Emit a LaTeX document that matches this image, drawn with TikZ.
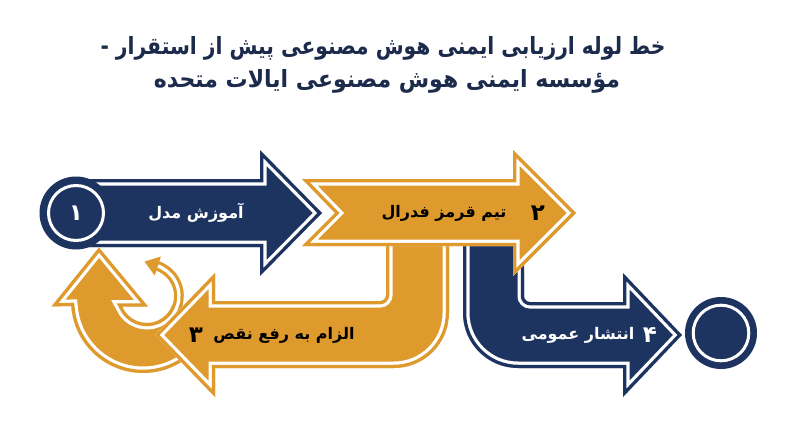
\documentclass[tikz,border=0pt]{standalone}
\usepackage{fontspec}
\usepackage{graphicx}
\TeXXeTstate=1
\newfontfamily\fa[Script=Arabic]{DejaVu Sans}
\definecolor{navy}{HTML}{1D3461}
\definecolor{gold}{HTML}{DE9A2C}
\definecolor{titlec}{HTML}{1C2B4B}
% filled shape with coloured rim, white inner line, coloured fill
\newcommand\bandedshape[2]{%
  \begin{scope}
    \clip #2;
    \fill[#1] #2;
    \draw[white, line width=13pt] #2;
    \draw[#1, line width=6.5pt] #2;
  \end{scope}}
\tikzset{
  titlefont/.style={font=\fa\bfseries\fontsize{22}{26}\selectfont, text=titlec, inner sep=0pt},
  lbl/.style={font=\fa\bfseries\fontsize{16}{19}\selectfont, text=black, inner sep=0pt},
  num/.style={font=\fa\bfseries\fontsize{23}{26}\selectfont, text=black, inner sep=0pt},
  disc/.style={fill=navy},
  ring/.style={draw=white, line width=3pt},
}
\begin{document}
\begin{tikzpicture}[x=1pt, y=-1pt, line join=miter]
\fill[white] (0,0) rectangle (800,447);
\useasboundingbox (0,0) rectangle (800,447);

% U-turn arrow (orange) under step 3
\bandedshape{gold}{(99,247.5) -- (148,306.5) -- (122.1,306.5) arc[start angle=157.1, end angle=20, radius=27] -- (210.7,325.6) arc[start angle=20, end angle=176, radius=72] -- (51.5,306.5) -- cycle}
% small curved arrow continuing the inner rim
\draw[gold, line width=9.75pt] (162.95,323.63) arc[start angle=60, end angle=-72, radius=31.9];
\draw[white, line width=3.25pt] (162.95,323.63) arc[start angle=60, end angle=-72, radius=31.9];
\fill[gold] (144.5,261.6) -- (160.9,256.5) -- (154.7,275.5) -- cycle;

% step 3: orange L (pipe down from step 2, arrow to the left)
\bandedshape{gold}{(386,232) -- (449,232) -- (449,313) arc[start angle=0, end angle=90, radius=55] -- (215,368) -- (215,397) -- (155,335) -- (215,273) -- (215,301) -- (380,301) arc[start angle=90, end angle=0, radius=6] -- cycle}

% step 4: navy L (pipe down from step 2, arrow to the right)
\bandedshape{navy}{(463,232) -- (463,313) arc[start angle=180, end angle=90, radius=55] -- (623,368) -- (623,397) -- (682,335) -- (623,273) -- (623,302) -- (530,302) arc[start angle=90, end angle=180, radius=6] -- (524,232) -- cycle}

% step 2: orange chevron arrow
\bandedshape{gold}{(302,179) -- (513,179) -- (513,150) -- (576,213) -- (513,276) -- (513,246) -- (302,246) -- (335,213) -- cycle}

% step 1: navy arrow with start disc
\bandedshape{navy}{(80,179) -- (260,179) -- (260,150) -- (322,213) -- (260,276) -- (260,247) -- (80,247) -- cycle}
\fill[disc] (76,213) circle[radius=36.5];
\draw[ring] (76,213) circle[radius=27.5];

% end disc
\fill[disc] (721,333) circle[radius=36];
\draw[ring] (721,333) circle[radius=27.8];

% title
\node[titlefont] (title1) at (383,48) {\scalebox{0.92}[1.08]{\beginR خط لوله ارزیابی ایمنی هوش مصنوعی پیش از استقرار -\endR}};
\node[titlefont] (title2) at (387,81) {\scalebox{1.0}[1.08]{\beginR مؤسسه ایمنی هوش مصنوعی ایالات متحده\endR}};

% labels
\node[num, text=white] (n1) at (76,213) {۱};
\node[lbl, text=white] (l1) at (196,213) {\beginR آموزش مدل\endR};
\node[num] (n2) at (538,213) {۲};
\node[lbl] (l2) at (444,213) {\beginR تیم قرمز فدرال\endR};
\node[num] (n3) at (196,335) {۳};
\node[lbl] (l3) at (284,335) {\beginR الزام به رفع نقص\endR};
\node[num, text=white] (n4) at (650,335) {۴};
\node[lbl, text=white] (l4) at (578,335) {\beginR انتشار عمومی\endR};
\end{tikzpicture}
\end{document}
